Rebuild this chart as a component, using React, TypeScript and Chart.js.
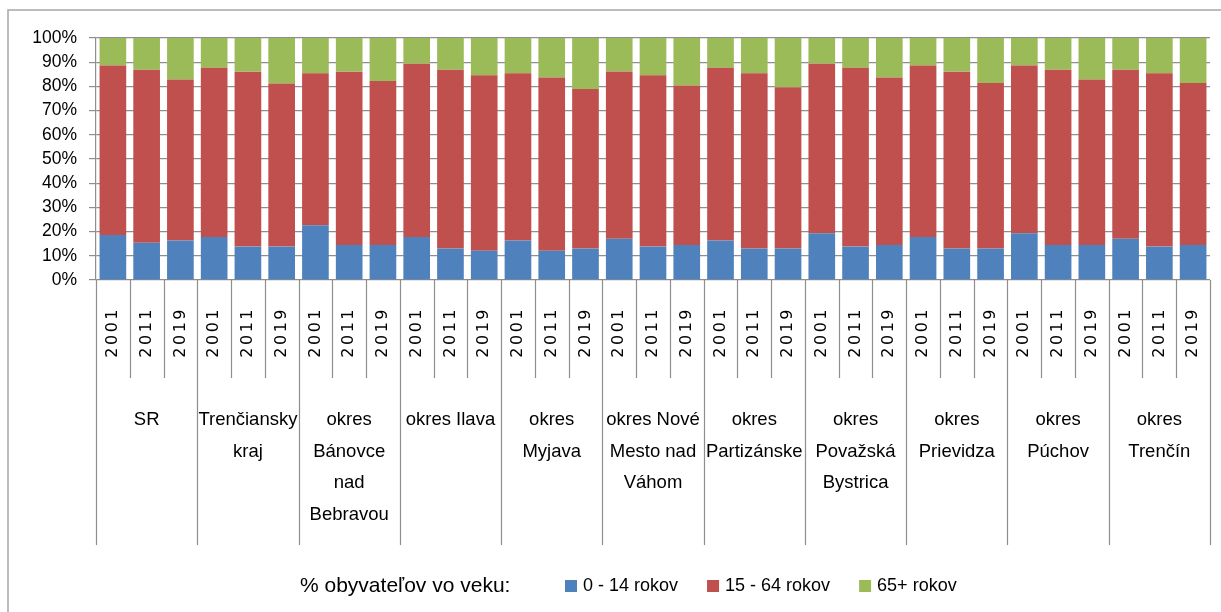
import React, { useEffect, useRef } from "react";
import { Chart, registerables } from "chart.js";

Chart.register(...registerables);

const years = ["2001", "2011", "2019"];
const groupLines: string[][] = [
  ["SR"],
  ["Trenčiansky", "kraj"],
  ["okres", "Bánovce", "nad", "Bebravou"],
  ["okres Ilava"],
  ["okres", "Myjava"],
  ["okres Nové", "Mesto nad", "Váhom"],
  ["okres", "Partizánske"],
  ["okres", "Považská", "Bystrica"],
  ["okres", "Prievidza"],
  ["okres", "Púchov"],
  ["okres", "Trenčín"],
];

const age0_14 = [
  18.6, 15.4, 16.3, 17.8, 13.8, 13.8, 22.6, 14.5, 14.5, 17.8, 13.0, 12.1,
  16.3, 12.1, 13.0, 17.0, 13.8, 14.5, 16.3, 13.0, 13.0, 19.3, 13.8, 14.5,
  17.8, 13.0, 13.0, 19.3, 14.5, 14.5, 17.0, 13.8, 14.5,
];
const age15_64 = [
  70.0, 71.5, 66.6, 69.9, 72.3, 67.4, 62.8, 71.6, 67.7, 71.6, 73.9, 72.5,
  69.1, 71.6, 65.9, 69.2, 70.8, 65.9, 71.4, 72.4, 66.7, 70.1, 73.9, 69.2,
  70.8, 73.1, 68.4, 69.3, 72.4, 68.4, 69.9, 71.6, 66.9,
];
const age65 = [
  11.4, 13.1, 17.1, 12.3, 13.9, 18.8, 14.6, 13.9, 17.8, 10.6, 13.1, 15.4,
  14.6, 16.3, 21.1, 13.8, 15.4, 19.6, 12.3, 14.6, 20.3, 10.6, 12.3, 16.3,
  11.4, 13.9, 18.6, 11.4, 13.1, 17.1, 13.1, 14.6, 18.6,
];

const seriesNames = ["0 - 14 rokov", "15 - 64 rokov", "65+ rokov"];
const seriesColors = ["#4F81BD", "#C0504D", "#9BBB59"];
const legendTitle = "% obyvateľov vo veku:";

const GRID = "#8e8e8e";
const FONT = "'Liberation Sans', Arial, sans-serif";

const multiAxisPlugin = {
  id: "multiAxis",
  afterDraw(chart: any) {
    const ctx = chart.ctx as CanvasRenderingContext2D;
    const area = chart.chartArea;
    const xScale = chart.scales.x;
    const n = chart.data.labels.length;
    const step = (area.right - area.left) / n;
    ctx.save();
    // outer frame
    ctx.strokeStyle = "#a6a6a6";
    ctx.lineWidth = 1.5;
    ctx.strokeRect(8, 10, 1400, 800);

    // separators
    ctx.strokeStyle = GRID;
    ctx.lineWidth = 1.2;
    for (let i = 0; i <= n; i++) {
      const x = Math.round(area.left + i * step) + 0.5;
      const long = i % years.length === 0;
      ctx.beginPath();
      ctx.moveTo(x, area.bottom);
      ctx.lineTo(x, long ? 545 : 378);
      ctx.stroke();
    }

    // year labels
    ctx.fillStyle = "#000";
    ctx.font = "16px 'DejaVu Sans', sans-serif";
    (ctx as any).letterSpacing = "2.5px";
    for (let i = 0; i < n; i++) {
      const cx = xScale.getPixelForValue(i);
      ctx.save();
      ctx.translate(cx, 307);
      ctx.rotate(-Math.PI / 2);
      ctx.textAlign = "right";
      ctx.textBaseline = "middle";
      ctx.fillText(years[i % years.length], 0, 0);
      ctx.restore();
    }
    (ctx as any).letterSpacing = "0px";

    // group labels
    ctx.font = `18.5px ${FONT}`;
    ctx.textAlign = "center";
    ctx.textBaseline = "middle";
    groupLines.forEach((lines, g) => {
      const cx = area.left + (g * years.length + years.length / 2) * step;
      lines.forEach((ln, k) => {
        ctx.fillText(ln, cx, 420 + k * 31.5);
      });
    });

    // legend
    const ly = 586;
    ctx.textAlign = "left";
    ctx.font = `21px ${FONT}`;
    ctx.fillText(legendTitle, 300, ly);
    ctx.font = `18px ${FONT}`;
    let x = 565;
    chart.data.datasets.forEach((ds: any) => {
      ctx.fillStyle = ds.backgroundColor;
      ctx.fillRect(x, ly - 6, 12, 12);
      ctx.fillStyle = "#000";
      ctx.fillText(ds.label, x + 18, ly);
      x += 18 + ctx.measureText(ds.label).width + 29;
    });
    ctx.restore();
  },
};

export default function App() {
  const ref = useRef<HTMLCanvasElement>(null);
  useEffect(() => {
    const labels: string[] = [];
    groupLines.forEach((g) => years.forEach((y) => labels.push(g.join(" ") + " " + y)));
    const values = [age0_14, age15_64, age65];
    const chart = new Chart(ref.current as HTMLCanvasElement, {
      type: "bar",
      data: {
        labels,
        datasets: values.map((v, i) => ({
          label: seriesNames[i],
          data: v,
          backgroundColor: seriesColors[i],
          borderWidth: 0,
          barPercentage: 0.79,
          categoryPercentage: 1,
        })),
      },
      options: {
        animation: false,
        responsive: true,
        maintainAspectRatio: false,
        layout: { padding: { top: 38, right: 11, left: 0, bottom: 332 } },
        plugins: { legend: { display: false }, tooltip: { enabled: false } },
        scales: {
          x: {
            stacked: true,
            display: false,
          },
          y: {
            stacked: true,
            min: 0,
            max: 100,
            afterFit: (s: any) => {
              s.width = 96;
            },
            ticks: {
              stepSize: 10,
              color: "#000",
              padding: 12,
              font: { family: FONT, size: 17.5 },
              callback: (v: any) => v + "%",
            },
            grid: { color: GRID, lineWidth: 1.2, tickLength: 7 },
            border: { color: GRID, width: 1.2 },
          },
        },
      },
      plugins: [multiAxisPlugin],
    });
    return () => chart.destroy();
  }, []);
  return (
    <div style={{ position: "absolute", left: 0, top: 0, width: 1221, height: 612, background: "#fff" }}>
      <canvas ref={ref} />
    </div>
  );
}
